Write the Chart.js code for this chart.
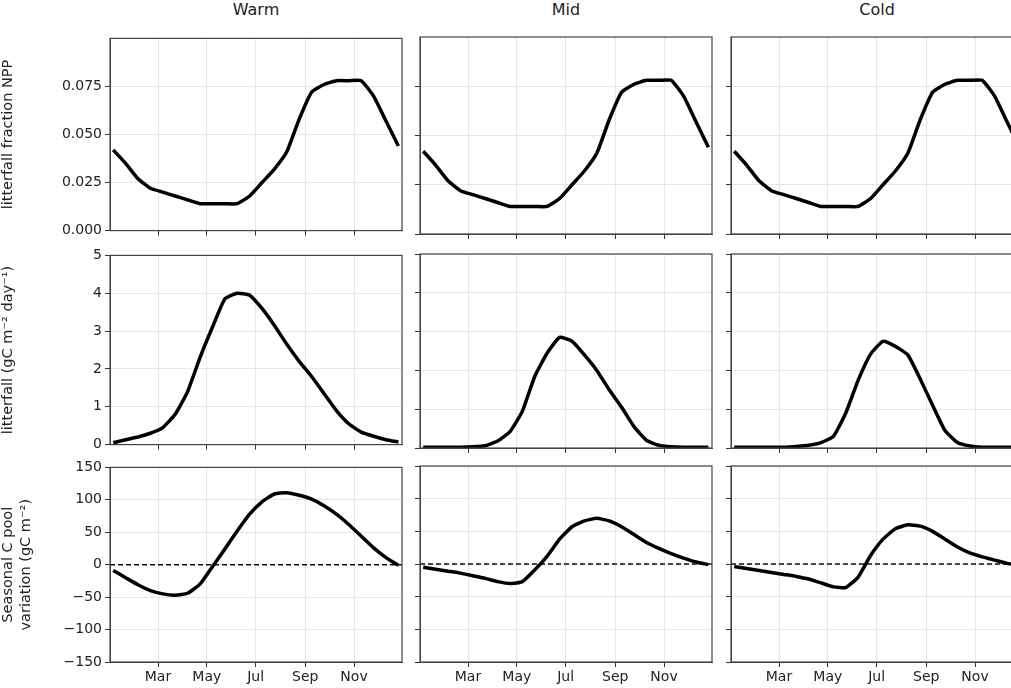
<!DOCTYPE html>
<html>
<head>
<meta charset="utf-8">
<script src="https://cdn.jsdelivr.net/npm/chart.js@4/dist/chart.umd.min.js"></script>
<style>
body{margin:0;width:1011px;height:688px;overflow:hidden;background:#fff;position:relative;font-family:"DejaVu Sans",sans-serif}
canvas{position:absolute}
.ttl{position:absolute;top:0px;width:292px;text-align:center;font-size:16px;color:#222}
</style>
</head>
<body>
<div class="ttl" style="left:110px">Warm</div>
<div class="ttl" style="left:420px">Mid</div>
<div class="ttl" style="left:731px">Cold</div>
<script>
// day of year for each sample (semi-monthly)
var days = [4,19.5,35,50.5,66,81.5,97,112.5,128,143.5,159,174.5,190,205.5,221,236.5,252,267.5,283,298.5,314,329.5,345,360.5]
var monthTicks = [60,121,182,244,305]
var monthLabels = ["Mar","May","Jul","Sep","Nov"]

// litterfall fraction of NPP (same for all three climates)
var fracNPP = [0.042,0.035,0.027,0.022,0.020,0.018,0.016,0.014,0.014,0.014,0.014,0.018,0.025,0.032,0.041,0.058,0.072,0.076,0.078,0.078,0.078,0.070,0.057,0.044]

// litterfall gC m-2 day-1
var litWarm = [0.05,0.13,0.2,0.3,0.45,0.8,1.4,2.3,3.1,3.85,4.0,3.95,3.6,3.15,2.65,2.2,1.8,1.35,0.9,0.55,0.33,0.22,0.13,0.07]
var litMid = [0.02,0.02,0.02,0.02,0.03,0.06,0.18,0.42,0.95,1.85,2.45,2.85,2.75,2.4,2.0,1.5,1.05,0.55,0.2,0.07,0.03,0.02,0.02,0.02]
var litCold = [0.02,0.02,0.02,0.02,0.02,0.04,0.07,0.14,0.3,0.9,1.75,2.42,2.75,2.62,2.4,1.78,1.1,0.45,0.14,0.05,0.02,0.02,0.02,0.02]

// seasonal C pool variation gC m-2
var poolWarm = [-9,-20,-31,-40,-45,-47,-44,-30,-3,24,52,78,97,109,111,107,101,91,78,62,44,26,11,-1]
var poolMid = [-5,-8,-11,-14,-18,-22,-27,-30,-27,-9,12,38,57,66,70,66,57,45,33,24,16,9,3,-1]
var poolCold = [-4,-7,-10,-13,-16,-19,-23,-29,-35,-36,-20,13,38,54,60,58,50,38,26,17,11,6,1,-2]

var rowTicks = [[0,0.025,0.05,0.075],[0,1,2,3,4,5],[-150,-100,-50,0,50,100,150]]
var rowRange = [[0,0.1],[0,5],[-150,150]]
var rowTitles = ["litterfall fraction NPP",["litterfall (gC m\u207B\u00B2 day\u207B\u00B9)"],["Seasonal C pool","variation (gC m\u207B\u00B2)"]]
var rowData = [[fracNPP,fracNPP,fracNPP],[litWarm,litMid,litCold],[poolWarm,poolMid,poolCold]]

var rowTop = [37,254,466], rowH = [197,194,196]
var colLeft = [110,420,731], plotW = 292

var frame = {
  id:'frame',
  afterDraw:function(c){
    var a=c.chartArea, x=c.ctx
    x.save(); x.strokeStyle='#444'; x.lineWidth=1.2
    x.strokeRect(a.left,a.top,a.right-a.left,a.bottom-a.top); x.restore()
  }
}

for (var r=0;r<3;r++){
  for (var c=0;c<3;c++){
    var axisW = c==0 ? 110 : 10
    var bottomH = r==2 ? 26 : 8
    var cv = document.createElement('canvas')
    var w = axisW+plotW+4, h = 10+rowH[r]+bottomH
    cv.width=w; cv.height=h
    cv.style.left=(colLeft[c]-axisW)+'px'; cv.style.top=(rowTop[r]-10)+'px'
    cv.style.width=w+'px'; cv.style.height=h+'px'
    document.body.appendChild(cv)
    var pts = days.map(function(d,i){return {x:d,y:rowData[r][c][i]}})
    var sets = [{data:pts,borderColor:'#000',borderWidth:3.5,pointRadius:0,tension:0.15,fill:false}]
    if (r==2) sets.push({data:[{x:0,y:0},{x:365,y:0}],borderColor:'#111',borderWidth:1.4,borderDash:[5,3],pointRadius:0})
    ;(function(r,c,axisW,bottomH){
    new Chart(cv,{
      type:'line',
      data:{datasets:sets},
      plugins:[frame],
      options:{
        responsive:false,animation:false,
        layout:{autoPadding:false,padding:{top:10,right:4,left:0,bottom:0}},
        plugins:{legend:{display:false},tooltip:{enabled:false}},
        scales:{
          x:{type:'linear',min:0,max:365,
            afterBuildTicks:function(ax){ax.ticks=monthTicks.map(function(v){return {value:v}})},
            afterFit:function(ax){ax.height=bottomH},
            grid:{color:'#e6e6e6',tickColor:'#333',tickLength:5},
            border:{color:'#444'},
            ticks:{display:r==2,maxRotation:0,color:'#222',padding:2,font:{family:'DejaVu Sans',size:14},
              callback:function(v){var i=monthTicks.indexOf(v);return i<0?'':monthLabels[i]}}},
          y:{min:rowRange[r][0],max:rowRange[r][1],
            afterBuildTicks:function(ax){ax.ticks=rowTicks[r].map(function(v){return {value:v}})},
            afterFit:function(ax){ax.width=axisW},
            grid:{color:'#e6e6e6',tickColor:'#333',tickLength:5},
            border:{color:'#444'},
            title:{display:c==0,text:rowTitles[r],color:'#222',padding:{top:0,bottom:2},font:{family:'DejaVu Sans',size:14.5}},
            ticks:{display:c==0,color:'#222',padding:3,font:{family:'DejaVu Sans',size:14},
              callback:function(v){
                if (r==0) return v.toFixed(3)
                return v<0 ? '\u2212'+Math.abs(v) : String(v)}}}
        }
      }
    })})(r,c,axisW,bottomH)
  }
}
</script>
</body>
</html>
